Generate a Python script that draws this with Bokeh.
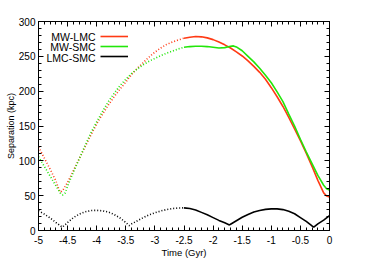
import numpy as np
from bokeh.plotting import figure
from bokeh.models import (LinearAxis, Range1d, Legend, LegendItem, Label,
                          SingleIntervalTicker, CustomJSTickFormatter)
from bokeh.core.properties import value
from bokeh.embed import file_html
from bokeh.resources import INLINE

# ---------------- data ----------------
series_names = ["MW-LMC", "MW-SMC", "LMC-SMC"]
series_colors = ["#ff3a14", "#22e60a", "#000000"]

mw_lmc_time = [-5.0, -4.9, -4.8, -4.7, -4.65, -4.62, -4.58, -4.5, -4.4, -4.3,
               -4.2, -4.1, -4.0, -3.9, -3.8, -3.7, -3.6, -3.5, -3.4, -3.3,
               -3.2, -3.1, -3.0, -2.9, -2.8, -2.7, -2.6, -2.5, -2.4, -2.3,
               -2.2, -2.1, -2.0, -1.9, -1.8, -1.7, -1.6, -1.5, -1.4, -1.3,
               -1.2, -1.1, -1.0, -0.9, -0.8, -0.7, -0.6, -0.5, -0.4, -0.3,
               -0.2, -0.1, -0.05, 0.0]
mw_lmc_sep = [120, 104, 88, 71, 59, 55, 58, 69, 86, 103,
              120, 137, 153, 167, 180, 192, 203, 213, 224, 233,
              241, 249, 256, 262, 267, 270.5, 273.5, 276, 277.5, 278.5,
              278, 276.5, 274, 270.5, 266.5, 262, 256.5, 250.5, 243.5, 235.5,
              227, 217, 205, 192, 178, 162.5, 146, 129, 111, 92,
              72, 54, 49.5, 48]

mw_smc_time = [-5.0, -4.9, -4.8, -4.7, -4.62, -4.58, -4.54, -4.5, -4.4, -4.3,
               -4.2, -4.1, -4.0, -3.9, -3.8, -3.7, -3.6, -3.5, -3.4, -3.3,
               -3.2, -3.1, -3.0, -2.9, -2.8, -2.7, -2.6, -2.5, -2.4, -2.3,
               -2.2, -2.1, -2.0, -1.9, -1.8, -1.7, -1.65, -1.6, -1.5, -1.4,
               -1.3, -1.2, -1.1, -1.0, -0.9, -0.8, -0.7, -0.6, -0.5, -0.4,
               -0.3, -0.2, -0.1, -0.05, 0.0]
mw_smc_sep = [106, 92, 78, 64, 53, 51, 54, 64, 84, 103,
              122, 140, 156, 171, 185, 197, 208, 217, 225.5, 232,
              238, 243, 247, 251, 254.5, 257.5, 260.5, 263, 264, 264.5,
              264.5, 264, 263, 262, 262.5, 264.5, 265, 263.5, 258, 250,
              242, 233, 223, 212, 199, 185, 167, 150, 131, 113,
              96, 79, 65, 60, 58]

lmc_smc_time = [-5.0, -4.9, -4.8, -4.7, -4.6, -4.59, -4.5, -4.4, -4.3, -4.2,
                -4.1, -4.0, -3.9, -3.8, -3.7, -3.6, -3.5, -3.44, -3.4, -3.3,
                -3.2, -3.1, -3.0, -2.9, -2.8, -2.7, -2.6, -2.5, -2.4, -2.3,
                -2.2, -2.1, -2.0, -1.9, -1.8, -1.72, -1.7, -1.6, -1.5, -1.4,
                -1.3, -1.2, -1.1, -1.0, -0.9, -0.8, -0.7, -0.6, -0.5, -0.4,
                -0.3, -0.27, -0.2, -0.1, 0.0]
lmc_smc_sep = [28.5, 23.5, 18, 11.5, 5.3, 4.8, 11.5, 18.5, 23.5, 26.8,
               28.6, 29, 28.3, 26.5, 23, 18, 11.5, 7, 9.5, 14,
               18.5, 22.5, 25.5, 28, 30, 31.5, 32.3, 32.5, 31.5, 29.5,
               26, 22.5, 18.5, 14.5, 11, 8, 9, 14, 19, 23,
               26.5, 28.8, 30.3, 31, 31, 30, 27.5, 24, 18.5, 13,
               6.5, 4.8, 9.5, 15, 21.5]

split_time = -2.5   # dotted before, solid after

x_ticks = [-5.0, -4.5, -4.0, -3.5, -3.0, -2.5, -2.0, -1.5, -1.0, -0.5, 0.0]
x_tick_labels = ["-5", "-4.5", "-4", "-3.5", "-3", "-2.5", "-2", "-1.5",
                 "-1", "-0.5", "0"]
y_ticks = [0.0, 50.0, 100.0, 150.0, 200.0, 250.0, 300.0]
y_tick_labels = ["0", "50", "100", "150", "200", "250", "300"]

x_label = "Time (Gyr)"
y_label = "Separation (kpc)"

FONT = "Liberation Sans"

# ---------------- figure ----------------
p = figure(width=387, height=260, x_range=Range1d(-5, 0),
           y_range=Range1d(0, 300), output_backend="svg",
           toolbar_location=None, min_border_left=38, min_border_right=58,
           min_border_top=21, min_border_bottom=30)
p.xgrid.visible = False
p.ygrid.visible = False
p.outline_line_color = "black"
p.outline_line_width = 1
p.background_fill_color = "white"
p.border_fill_color = "white"

xticker = SingleIntervalTicker(interval=0.5, num_minor_ticks=5)
yticker = SingleIntervalTicker(interval=50, num_minor_ticks=5)


def style_axis(ax):
    ax.major_tick_in = 5
    ax.major_tick_out = 0
    ax.minor_tick_in = 3
    ax.minor_tick_out = 0
    ax.axis_line_color = "black"
    ax.major_tick_line_color = "black"
    ax.minor_tick_line_color = "black"
    ax.major_label_text_font = FONT
    ax.major_label_text_font_size = "10px"
    ax.major_label_text_color = "black"
    ax.axis_label_text_font = FONT
    ax.axis_label_text_font_style = "normal"
    ax.axis_label_text_color = "black"


xa = p.xaxis[0]
xa.ticker = xticker
style_axis(xa)
xa.major_label_overrides = {float(k): v for k, v in zip(x_ticks, x_tick_labels)}
xa.major_label_standoff = 5
xa.axis_label = x_label
xa.axis_label_text_font_size = "9.5px"
xa.axis_label_standoff = 0

ya = p.yaxis[0]
ya.ticker = yticker
style_axis(ya)
ya.major_label_overrides = {float(k): v for k, v in zip(y_ticks, y_tick_labels)}
ya.major_label_standoff = 3
ya.axis_label = y_label
ya.axis_label_text_font_size = "9px"
ya.axis_label_standoff = 0

# mirrored tick marks on top and right, no labels
for loc, tk in (("above", xticker), ("right", yticker)):
    ax = LinearAxis(ticker=tk, formatter=CustomJSTickFormatter(code="return ''"))
    style_axis(ax)
    ax.major_label_standoff = 0
    p.add_layout(ax, loc)

# ---------------- curves ----------------
series = [(mw_lmc_time, mw_lmc_sep), (mw_smc_time, mw_smc_sep),
          (lmc_smc_time, lmc_smc_sep)]
solid_renderers = []
for (tt, ss), col in zip(series, series_colors):
    tt = np.asarray(tt, dtype=float)
    ss = np.asarray(ss, dtype=float)
    early = tt <= split_time
    late = tt >= split_time
    p.line(tt[early], ss[early], line_color=col, line_width=1.6,
           line_dash="1 2")
    r = p.line(tt[late], ss[late], line_color=col, line_width=1.6)
    solid_renderers.append(r)

# ---------------- legend (text left, sample right) ----------------
legend = Legend(items=[LegendItem(label=value(" "), renderers=[r])
                       for r in solid_renderers],
                location=(62, 169), glyph_width=28, glyph_height=10,
                label_height=10, label_width=0, spacing=0, padding=0,
                margin=0, label_standoff=0, label_text_font_size="1px",
                border_line_color=None, background_fill_alpha=0)
p.add_layout(legend)

for i, name in enumerate(series_names):
    p.add_layout(Label(x=57, y=194 - 10.5 * i, x_units="screen",
                       y_units="screen", text=name, text_align="right",
                       text_baseline="middle", text_font=FONT,
                       text_font_size="10.5px", text_color="black"))

open("out.html", "w").write(file_html(p, INLINE))
